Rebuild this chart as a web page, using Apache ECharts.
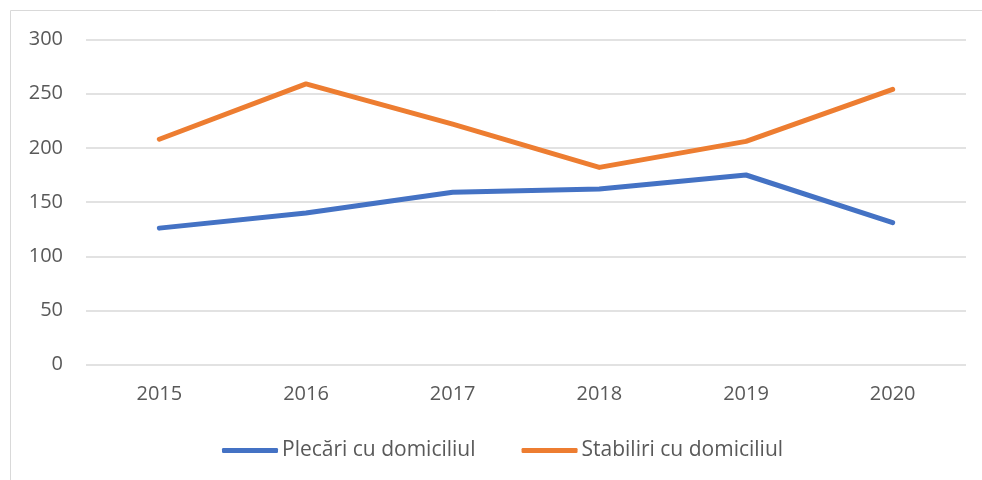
<!DOCTYPE html>
<html>
<head>
<meta charset="utf-8">
<script src="https://cdn.jsdelivr.net/npm/echarts@6/dist/echarts.min.js"></script>
<style>
  html, body { margin: 0; padding: 0; background: #fff; }
  #chart { width: 982px; height: 480px; }
</style>
</head>
<body>
<div id="chart"></div>
<script>
// data
const years = ['2015', '2016', '2017', '2018', '2019', '2020'];
const plecari = [126, 140, 159, 162, 175, 131];
const stabiliri = [208, 259, 222, 182, 206, 254];
const seriesNames = ['Plecări cu domiciliul', 'Stabiliri cu domiciliul'];

var chartDom = document.getElementById('chart');
var myChart = echarts.init(chartDom);
var option;

const font = '"Open Sans", "Liberation Sans", sans-serif';

option = {
    animation: false,
    textStyle: { fontFamily: font },
    graphic: [
        {
            type: 'rect',
            shape: { x: 10.5, y: 10.5, width: 1000, height: 500 },
            style: { fill: 'none', stroke: '#d9d9d9', lineWidth: 1 }
        }
    ],
    grid: {
        left: 86,
        right: 16,
        top: 39.5,
        bottom: 115.3
    },
    legend: {
        data: seriesNames,
        left: 217,
        top: 435,
        icon: 'roundRect',
        itemWidth: 56,
        itemHeight: 5,
        itemGap: 46,
        textStyle: { fontFamily: font, fontSize: 21, color: '#595959', padding: [0, 0, 0, -1] }
    },
    xAxis: {
        type: 'category',
        data: years,
        boundaryGap: true,
        axisLine: { show: false },
        axisTick: { show: false },
        axisLabel: { margin: 20, fontSize: 20, color: '#595959', fontFamily: font }
    },
    yAxis: {
        type: 'value',
        min: 0,
        max: 300,
        interval: 50,
        axisLine: { show: false },
        axisTick: { show: false },
        axisLabel: { margin: 23, fontSize: 20, color: '#595959', fontFamily: font },
        splitLine: { lineStyle: { color: '#d9d9d9', width: 1.5 } }
    },
    series: [
        {
            name: seriesNames[0],
            type: 'line',
            data: plecari,
            symbol: 'none',
            color: '#4472C4',
            lineStyle: { width: 5, cap: 'round', join: 'round' }
        },
        {
            name: seriesNames[1],
            type: 'line',
            data: stabiliri,
            symbol: 'none',
            color: '#ED7D31',
            lineStyle: { width: 5, cap: 'round', join: 'round' }
        }
    ]
};

option && myChart.setOption(option);
</script>
</body>
</html>
